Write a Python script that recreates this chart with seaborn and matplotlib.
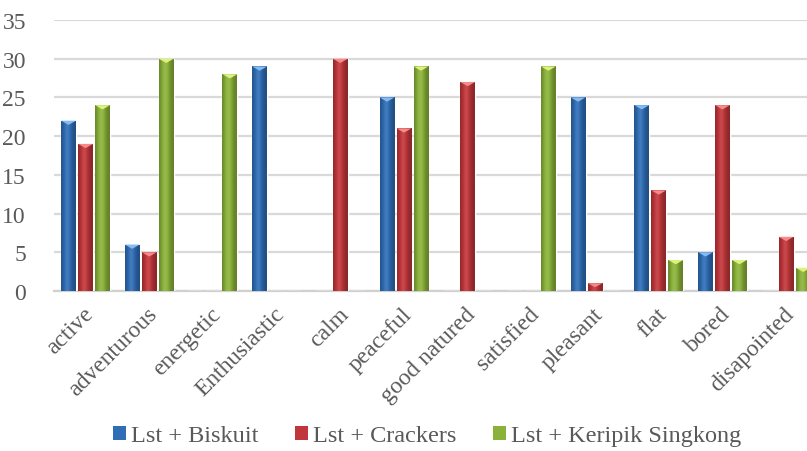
import numpy as np
import pandas as pd
import matplotlib
matplotlib.use("Agg")
import matplotlib.pyplot as plt
import seaborn as sns
from matplotlib.patches import Polygon, Patch
from matplotlib.colors import to_rgb
from matplotlib.transforms import ScaledTranslation

# Sensory descriptors and counts per snack pairing
categories = ["active", "adventurous", "energetic", "Enthusiastic", "calm", "peaceful",
              "good natured", "satisfied", "pleasant", "flat", "bored", "disapointed"]
series_names = ["Lst + Biskuit", "Lst + Crackers", "Lst + Keripik Singkong"]
biskuit = [22, 6, 0, 29, 0, 25, 0, 0, 25, 24, 5, 0]
crackers = [19, 5, 0, 0, 30, 21, 27, 0, 1, 13, 24, 7]
keripik = [24, 30, 28, 0, 0, 29, 0, 29, 0, 4, 4, 3]
y_ticks = [0, 5, 10, 15, 20, 25, 30, 35]

base_colors = {"Lst + Biskuit": "#2F6DB4", "Lst + Crackers": "#C0363A", "Lst + Keripik Singkong": "#8AB13A"}
top_colors = {"Lst + Biskuit": "#86BBF2", "Lst + Crackers": "#F58A8A", "Lst + Keripik Singkong": "#DDF27A"}

df = pd.DataFrame({
    "category": categories * 3,
    "series": np.repeat(series_names, len(categories)),
    "value": biskuit + crackers + keripik,
})

sns.set_theme(style="white")
plt.rcParams["font.serif"] = ["Liberation Serif", "DejaVu Serif"]
plt.rcParams["font.family"] = ["serif"]

fig = plt.figure(figsize=(8.07, 4.52), dpi=100)
ax = fig.add_axes([53.7 / 807, 1 - 292 / 452, (818 - 53.7) / 807, (292 - 21) / 452])

sns.barplot(data=df, x="category", y="value", hue="series", order=categories,
            hue_order=series_names, palette=base_colors, width=0.8, gap=0.12,
            saturation=1, legend=False, ax=ax, zorder=3)

ax.set_ylim(0, 35)
ax.set_yticks(y_ticks)
ax.set_xlim(-0.5, len(categories) - 0.5)
ax.yaxis.grid(True, color="#D9D9D9", linewidth=1.6, zorder=0)
ax.xaxis.grid(False)
for side in ["left", "right", "top"]:
    ax.spines[side].set_visible(False)
ax.spines["bottom"].set_color("#D0D0D0")
ax.spines["bottom"].set_linewidth(1.6)
ax.set_xlabel("")
ax.set_ylabel("")
ax.tick_params(axis="y", length=0, pad=20, labelsize=17, labelcolor="#595959")
ax.tick_params(axis="x", length=0, pad=14, labelsize=17, labelcolor="#595959")
shift = ScaledTranslation(5 / 100, 0, fig.dpi_scale_trans)
for lbl in ax.get_xticklabels():
    lbl.set_rotation(45)
    lbl.set_ha("right")
    lbl.set_va("center")
    lbl.set_rotation_mode("anchor")
    lbl.set_transform(lbl.get_transform() + shift)


def shade(rgb, f):
    rgb = np.array(rgb)
    if f < 1:
        return rgb * f
    return rgb + (1 - rgb) * (f - 1)


# Cylinder-like horizontal shading and a light bevel at the top of each bar
profile_x = np.linspace(0, 1, 40)
profile = 0.72 + 0.38 * np.exp(-((profile_x - 0.42) / 0.30) ** 2)
series_of_bar = np.repeat(series_names, len(categories))
for patch, name in zip(ax.patches, series_of_bar):
    h = patch.get_height()
    if h <= 0:
        continue
    x0, w = patch.get_x(), patch.get_width()
    rgb = to_rgb(base_colors[name])
    img = np.clip(np.array([[shade(rgb, f) for f in profile]]), 0, 1)
    im = ax.imshow(img, extent=(x0, x0 + w, 0, h), aspect="auto", zorder=3.5,
                   interpolation="bicubic")
    im.set_clip_path(patch)
    depth = min(0.55, h * 0.5)
    tri = Polygon([(x0, h), (x0 + w, h), (x0 + w / 2, h - depth)], closed=True,
                  facecolor=top_colors[name], edgecolor="none", zorder=4)
    ax.add_patch(tri)
ax.set_xlim(-0.5, len(categories) - 0.5)
ax.set_ylim(0, 35)

handles = [Patch(facecolor=base_colors[n], edgecolor="none", label=n) for n in series_names]
fig.legend(handles=handles, loc="center", bbox_to_anchor=(427 / 807, 1 - 437 / 452),
           ncol=3, frameon=False, prop={"family": "serif", "size": 17.5},
           handlelength=0.55, handleheight=0.55, handletextpad=0.2, columnspacing=1.5,
           labelcolor="#595959")

fig.savefig("out.png", dpi=100, facecolor="white")
